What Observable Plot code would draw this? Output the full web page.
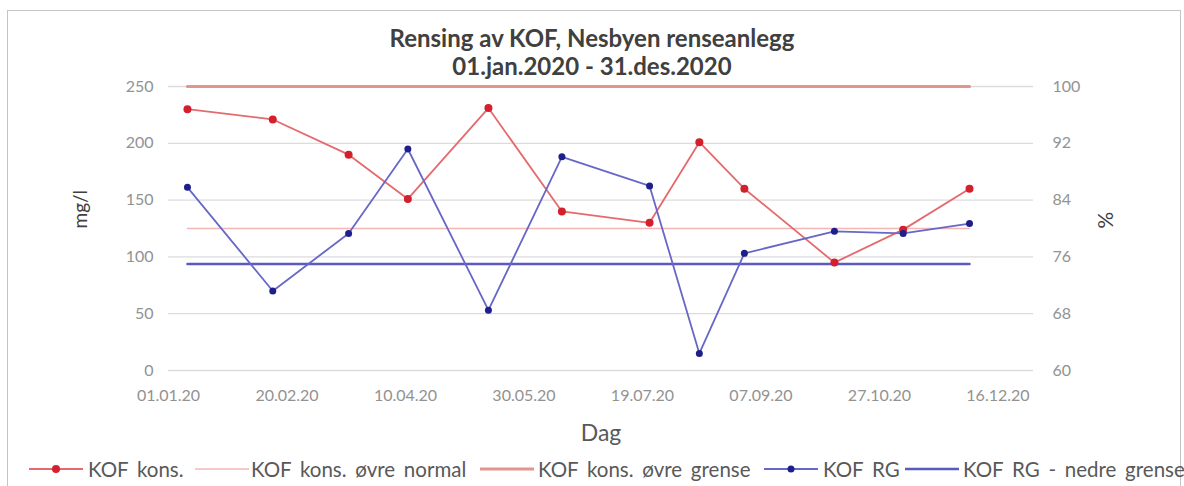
<!DOCTYPE html>
<html><head><meta charset="utf-8">
<script src="https://cdn.jsdelivr.net/npm/d3@7"></script>
<script src="https://cdn.jsdelivr.net/npm/@observablehq/plot@0.6"></script>
<style>
html,body{margin:0;padding:0;background:#fff;overflow:hidden;}
#wrap{position:relative;width:1184px;height:486px;overflow:hidden;font-family:Lato,"Open Sans",sans-serif;}
#border{position:absolute;left:7px;top:10px;width:1174px;height:540px;border:1.5px solid #c4c4c4;box-sizing:border-box;}
.tl{position:absolute;left:0;width:1184px;text-align:center;font-weight:bold;font-size:24px;line-height:28px;color:#404040;white-space:nowrap;}
#chart{position:absolute;left:0;top:70px;}
#legend{position:absolute;left:0;top:455px;width:1184px;height:28px;}
.li{position:absolute;top:0;height:28px;display:flex;align-items:center;white-space:nowrap;font-size:20.5px;word-spacing:3.5px;color:#595959;}
.sw{position:absolute;top:9px;}
</style></head>
<body><div id="wrap">
<div id="border"></div>
<div class="tl" style="top:24px">Rensing av KOF, Nesbyen renseanlegg</div>
<div class="tl" style="top:52px">01.jan.2020 - 31.des.2020</div>
<div id="chart"></div>
<div id="legend"></div>
</div>
<script>
// ---- data ----
const dates = ["2020-01-09","2020-02-14","2020-03-17","2020-04-11","2020-05-15","2020-06-15","2020-07-22","2020-08-12","2020-08-31","2020-10-08","2020-11-06","2020-12-04"];
const kofKons = [230, 221, 190, 151, 231, 140, 130, 201, 160, 95, 124, 160];          // mg/l
const kofRG = [85.8, 71.2, 79.3, 91.2, 68.5, 90.1, 86.0, 62.4, 76.5, 79.6, 79.3, 80.7]; // %
const kofKonsOvreNormal = 125;  // mg/l
const kofKonsOvreGrense = 250;  // mg/l
const kofRGNedreGrense = 75;    // %
const xTickLabels = ["01.01.20","20.02.20","10.04.20","30.05.20","19.07.20","07.09.20","27.10.20","16.12.20"];
const leftTicks = [0, 50, 100, 150, 200, 250];
const rightTicks = [60, 68, 76, 84, 92, 100];
const seriesNames = ["KOF kons.","KOF kons. øvre normal","KOF kons. øvre grense","KOF RG","KOF RG - nedre grense"];

// ---- helpers ----
const parseDMY = s => { const [d,m,y] = s.split(".").map(Number); return new Date(Date.UTC(2000+y, m-1, d)); };
const xTicks = xTickLabels.map(parseDMY);
const lMin = leftTicks[0], lMax = leftTicks[leftTicks.length-1];
const rMin = rightTicks[0], rMax = rightTicks[rightTicks.length-1];
const toLeft = p => lMin + (p - rMin) * (lMax - lMin) / (rMax - rMin);
const rows = dates.map((d,i) => ({date: new Date(d+"T00:00:00Z"), kons: kofKons[i], rgL: toLeft(kofRG[i])}));

const C = {kons:"#e46a6e", konsDot:"#d41f2c", normal:"#f3b6b6", grense:"#e0968d", rg:"#6767c8", rgDot:"#1f1f8c", nedre:"#5a5abf"};

const chart = Plot.plot({
  width: 1184, height: 378,
  marginTop: 16, marginBottom: 78, marginLeft: 168, marginRight: 151,
  style: {fontFamily: "Lato, 'Open Sans', sans-serif", fontSize: "16px", background: "transparent"},
  x: {type: "utc", domain: [new Date("2020-01-01T00:00:00Z"), new Date("2020-12-31T00:00:00Z")]},
  y: {domain: [lMin, lMax]},
  marks: [
    Plot.gridY(leftTicks, {stroke: "#dcdcdc", strokeOpacity: 1, strokeWidth: 1.3}),
    Plot.axisY(leftTicks, {anchor: "left", tickSize: 0, tickPadding: 15, label: null, fill: "#929292", fontSize: 16}),
    Plot.axisY(leftTicks, {anchor: "right", tickSize: 0, tickPadding: 19, label: null, fill: "#929292", fontSize: 16,
      tickFormat: d => rightTicks[leftTicks.indexOf(d)]}),
    Plot.axisX(xTicks, {tickSize: 0, tickPadding: 19, label: null, fill: "#929292", fontSize: 16,
      tickFormat: d => xTickLabels[xTicks.findIndex(t => +t === +d)]}),
    Plot.text(["mg/l"], {frameAnchor: "left", dx: -88, rotate: -90, fontSize: 19, fill: "#404040"}),
    Plot.text(["%"], {frameAnchor: "right", dx: 71, rotate: 90, fontSize: 21, fill: "#404040"}),
    Plot.text(["Dag"], {frameAnchor: "bottom", lineAnchor: "middle", dy: 63, fontSize: 23, fill: "#595959"}),
    Plot.lineY(rows, {x: "date", y: () => kofKonsOvreNormal, stroke: C.normal, strokeWidth: 1.6}),
    Plot.lineY(rows, {x: "date", y: () => kofKonsOvreGrense, stroke: C.grense, strokeWidth: 3}),
    Plot.lineY(rows, {x: "date", y: () => toLeft(kofRGNedreGrense), stroke: C.nedre, strokeWidth: 2.5}),
    Plot.line(rows, {x: "date", y: "kons", stroke: C.kons, strokeWidth: 1.8}),
    Plot.line(rows, {x: "date", y: "rgL", stroke: C.rg, strokeWidth: 1.8}),
    Plot.dot(rows, {x: "date", y: "kons", r: 4, fill: C.konsDot, stroke: "none"}),
    Plot.dot(rows, {x: "date", y: "rgL", r: 3.5, fill: C.rgDot, stroke: "none"})
  ]
});
document.getElementById("chart").appendChild(chart);

// ---- legend ----
const legendItems = [
  {name: seriesNames[0], color: C.kons, dot: C.konsDot, r: 4, w: 1.8, sx: 29, tx: 88},
  {name: seriesNames[1], color: C.normal, dot: null, w: 1.6, sx: 195, tx: 251},
  {name: seriesNames[2], color: C.grense, dot: null, w: 3, sx: 480, tx: 538},
  {name: seriesNames[3], color: C.rg, dot: C.rgDot, r: 3.5, w: 1.8, sx: 764, tx: 823},
  {name: seriesNames[4], color: C.nedre, dot: null, w: 2.5, sx: 905, tx: 963}
];
const leg = document.getElementById("legend");
for (const it of legendItems) {
  const sw = document.createElementNS("http://www.w3.org/2000/svg", "svg");
  sw.setAttribute("width", 54); sw.setAttribute("height", 10);
  sw.setAttribute("class", "sw"); sw.style.left = it.sx + "px";
  sw.innerHTML = `<line x1="0" x2="54" y1="5" y2="5" stroke="${it.color}" stroke-width="${it.w}"/>` +
    (it.dot ? `<circle cx="27" cy="5" r="${it.r}" fill="${it.dot}"/>` : "");
  leg.appendChild(sw);
  const t = document.createElement("div");
  t.className = "li"; t.style.left = it.tx + "px"; t.textContent = it.name;
  leg.appendChild(t);
}
</script>
</body></html>
